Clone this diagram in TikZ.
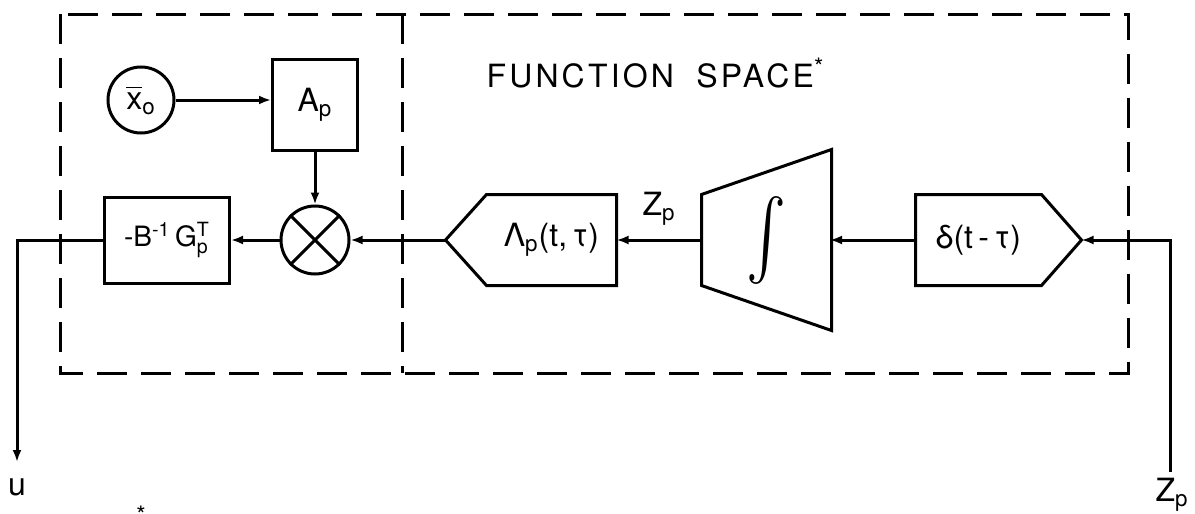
\documentclass[tikz,border=0pt]{standalone}
\usepackage{amsmath}
\usepackage{graphicx}
\usepackage{fontspec}
\setmainfont{TeX Gyre Heros}
\usetikzlibrary{arrows.meta,calc}
\begin{document}
\begin{tikzpicture}[x=0.5pt,y=-0.5pt, line width=1.5pt,
  font=\fontsize{16}{18}\selectfont,
  box/.style={draw, rectangle, inner sep=0pt},
  plain/.style={rectangle, inner sep=0pt},
  arr/.style={-{Latex[length=6pt,width=4.5pt]}},
  frame/.style={dash pattern=on 15pt off 7pt, line width=1.5pt},
  lbl/.style={inner sep=0pt}]
\useasboundingbox (0,0) rectangle (1195,514);
% dashed frames
\draw[frame] (60,14) rectangle (1128,373);
\draw[frame] (402,14) -- (402,373);
\node[lbl, anchor=west] (fs) at (485,73) {\addfontfeatures{LetterSpace=10}FUNCTION\hspace{0.7em}SPACE\textsuperscript{\large *}};
% left part
\node[draw, circle, minimum size=33pt, inner sep=0pt] (x0) at (141,100) {$\overline{\text{x}}_{\text{o}}$};
\node[box, minimum width=42.5pt, minimum height=45.5pt] (Ap) at (315,105) {A$_{\text{p}}$};
\node[draw, circle, minimum size=34pt, inner sep=0pt] (M) at (315,240) {};
\draw (M.45) -- (M.225) (M.135) -- (M.315);
\node[box, minimum width=62.5pt, minimum height=43pt, font=\fontsize{14}{16}\selectfont] (B) at (167,240) {-B$^{\text{-1}}$\,G$^{\text{T}}_{\text{p}}$};
% Lambda block
\node[plain, minimum width=63.5pt, minimum height=44pt] (L) at (551.5,240) {Λ$_{\text{p}}$(t,\,τ)};
\draw (L.north east) -- (L.north west) -- ($(L.west)+(-41,0)$) coordinate (Ltip) -- (L.south west) -- (L.south east) -- cycle;
% integrator
\node[plain, minimum width=63.5pt, minimum height=44pt] (I) at (766.5,240) {\resizebox*{20pt}{44pt}{$\int$}};
\draw (I.north west) -- ($(I.north east)+(0,-45)$) -- ($(I.south east)+(0,45)$) -- (I.south west) -- cycle;
% delta block
\node[plain, minimum width=61.5pt, minimum height=44pt] (D) at (978.5,240) {δ(t\,-\,τ)};
\draw (D.north west) -- (D.north east) -- ($(D.east)+(40,0)$) coordinate (Dtip) -- (D.south east) -- (D.south west) -- cycle;
% terminals
\coordinate (zin) at (1170,472);
\node[lbl] (zl) at (1172,495) {Z$_{\text{p}}$};
\coordinate (uout) at (17,462);
\node[lbl] (ul) at (17,487) {u};
\node[lbl, anchor=base] (star) at (141,523) {\large *};
% connectors
\draw[arr] (x0.east) -- (x0.east -| Ap.west);
\draw[arr] (Ap) -- (M);
\draw[arr] (Ltip) -- (M.east);
\draw[arr] (M) -- (B);
\draw[arr] (I.west) -- node[above=3pt] {Z$_{\text{p}}$} (L.east);
\draw[arr] (D.west) -- (830,240) coordinate (Iin);
\draw[arr] (zin) |- (Dtip);
\draw[arr] (B.west) -| (uout);
\end{tikzpicture}
\end{document}
